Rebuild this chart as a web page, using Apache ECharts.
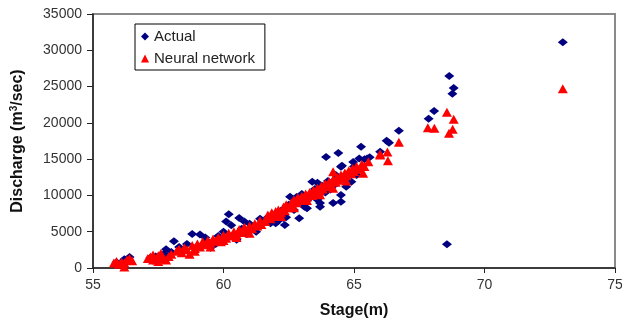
<!DOCTYPE html>
<html>
<head>
<meta charset="utf-8">
<script src="https://cdn.jsdelivr.net/npm/echarts@6/dist/echarts.min.js"></script>
<style>html,body{margin:0;padding:0;background:#fff}#c{width:622px;height:320px}</style>
</head>
<body>
<div id="c"></div>
<script>
// Tick labels
const xTicks = [55, 60, 65, 70, 75];
const yTicks = [0, 5000, 10000, 15000, 20000, 25000, 30000, 35000];
const seriesNames = ["Actual", "Neural network"];

// Actual observed discharge [stage, discharge]
const actual = [
  [55.9,800],[56.0,600],[56.2,1200],[56.4,1500],[56.3,900],[56.1,300],
  [57.2,1400],[57.4,1600],[57.5,1200],[57.7,1900],[57.8,2600],[57.9,1700],[58.1,3700],[58.0,2200],[57.3,1000],
  [58.3,2900],[58.5,2400],[58.8,4700],[59.1,4600],[59.0,3000],[59.3,4200],[59.5,2800],[59.7,3300],[59.8,4400],
  [60.0,5000],[60.1,6400],[60.2,7400],[60.3,5900],[60.4,4200],[60.5,3900],[60.6,6900],[60.8,6400],[60.9,4700],
  [61.0,6100],[61.25,5000],[61.1,5500],[59.4,3600],[58.6,3300],[60.7,5400],[61.4,6800],
  [61.8,6150],[62.0,6150],[62.35,5930],[62.3,6900],[62.55,9830],[62.9,6850],[63.2,8230],[63.1,8450],
  [63.4,11900],[63.6,11750],[63.7,8450],[63.7,8960],[64.2,8960],[64.5,9140],[64.5,10060],[64.7,11200],
  [63.93,15300],[64.4,15850],[65.27,16720],[65.2,15100],[65.5,15100],[64.97,14600],[64.54,14100],[64.5,13960],
  [65.4,14980],[65.6,15250],
  [61.7,7000],[62.0,7500],[62.2,7900],[62.5,8700],[62.7,8000],[62.8,9800],[63.0,10200],[63.0,9000],[63.3,9600],
  [63.5,10900],[63.8,11300],[63.9,10400],[64.0,12000],[64.1,10800],[64.3,12800],[64.6,12200],[64.8,13000],
  [65.0,14000],[65.1,12800],[65.3,13600],[64.2,11300],[63.6,9400],[62.4,7000],[62.1,6500],[64.9,11900],
  [66.0,16030],[66.25,17540],[66.34,17270],[66.72,18900],[67.86,20575],[68.07,21635],
  [68.65,26450],[68.82,24800],[68.77,24000],[68.56,3270],[73.0,31100]
];

// Neural network estimated discharge [stage, discharge]
const neural = [
  [55.8,700],[55.9,900],[56.0,500],[56.1,800],[56.2,150],[56.3,1100],[56.4,1300],[56.5,1000],[56.2,700],
  [57.1,1300],[57.2,1500],[57.3,1800],[57.4,1200],[57.5,1700],[57.5,900],[57.6,2000],[57.7,1400],[57.8,1100],
  [57.9,1600],[58.0,1900],[57.6,1300],[57.3,1100],
  [58.2,2300],[58.3,2600],[58.4,2100],[58.5,2800],[58.6,2500],[58.7,1900],[58.8,3100],[58.9,2700],[59.0,3300],
  [59.1,2900],[59.2,3600],[59.3,3200],[59.4,3800],[59.5,3400],[59.6,4000],[59.7,3700],[59.8,4200],[59.9,3600],
  [60.0,4500],[60.1,4100],[60.2,4800],[60.3,4400],[60.4,5000],[60.5,4600],[60.6,5300],[60.7,4900],[60.8,5600],
  [60.9,5200],[61.0,5800],[61.1,5400],[61.2,6100],[61.3,5800],[61.4,6500],[61.45,6000],[59.5,2900],[60.0,3800],
  [60.5,4200],[61.0,4800],[58.9,2300],
  [61.6,6400],[61.65,6900],[61.7,7300],[61.8,6800],[61.85,7600],[61.9,7100],[62.0,7800],[62.05,7300],[62.1,8000],
  [62.2,7600],[62.3,8400],[62.35,7900],[62.4,8700],[62.5,8300],[62.6,9000],[62.65,8600],[62.7,9400],[62.8,9000],
  [62.85,9700],[62.9,9300],[63.0,9900],[63.1,9500],[63.15,10200],[63.2,9800],[63.3,10400],[63.4,10000],
  [63.45,10700],[63.5,10300],[63.6,11000],[63.7,10600],[63.75,11300],[63.8,10900],[63.9,11600],[64.0,11200],
  [64.05,11900],[64.1,11500],[64.2,12200],[64.2,13270],[64.3,11800],[64.35,12500],[64.4,12100],[64.5,12800],
  [64.6,12400],[64.65,13100],[64.7,12700],[64.8,13400],[64.9,13000],[64.95,13700],[65.0,13300],[65.1,14000],
  [65.2,13600],[65.3,14300],[65.35,13050],[65.4,14000],[65.55,14650],[66.0,15570],[66.28,15985],[66.3,14790],
  [66.72,17320],[62.2,7100],[62.7,8300],[63.2,9300],[63.7,10100],[64.2,11000],[64.7,12000],[66.0,15710],
  [67.83,19335],[68.08,19250],[68.56,21450],[68.82,20490],[68.78,19110],[68.64,18560],[73.0,24700]
];

const chart = echarts.init(document.getElementById('c'), null, {renderer: 'canvas'});
const font = 'Liberation Sans, Arial, sans-serif';
chart.setOption({
  animation: false,
  backgroundColor: '#fff',
  grid: {left: 93, right: 7, top: 14, bottom: 52, containLabel: false, outerBoundsMode: 'none',
         show: true, borderColor: '#8a8a8a', borderWidth: 2, backgroundColor: 'transparent'},
  legend: {
    data: [{name: seriesNames[0], icon: 'diamond'}, {name: seriesNames[1], icon: 'triangle'}],
    orient: 'vertical', left: 135, top: 24,
    padding: [5, 10, 4, 6], itemGap: 7, itemWidth: 8, itemHeight: 8,
    borderColor: '#000', borderWidth: 1, backgroundColor: '#fff',
    textStyle: {fontFamily: font, fontSize: 15, color: '#222'}
  },
  xAxis: {
    type: 'value', min: xTicks[0], max: xTicks[xTicks.length - 1], interval: 5,
    name: 'Stage(m)', nameLocation: 'middle', nameGap: 35,
    nameTextStyle: {fontFamily: font, fontSize: 16, fontWeight: 'bold', color: '#111'},
    axisLine: {show: true, lineStyle: {color: '#222', width: 1.5}},
    axisTick: {show: true, inside: false, length: 5, lineStyle: {color: '#222'}},
    axisLabel: {fontFamily: font, fontSize: 14, color: '#333', margin: 10, formatter: v => String(v)},
    splitLine: {show: false}
  },
  yAxis: {
    type: 'value', min: yTicks[0], max: yTicks[yTicks.length - 1], interval: 5000,
    name: 'Discharge (m{sup|3}/sec)', nameLocation: 'middle', nameGap: 66, nameRotate: 90,
    nameTextStyle: {fontFamily: font, fontSize: 16, fontWeight: 'bold', color: '#111',
      rich: {sup: {fontFamily: font, fontSize: 10, fontWeight: 'bold', color: '#111', verticalAlign: 'top', padding: [0, 0, 8, 0]}}},
    axisLine: {show: true, lineStyle: {color: '#222', width: 1.5}},
    axisTick: {show: true, inside: false, length: 6, lineStyle: {color: '#222'}},
    axisLabel: {fontFamily: font, fontSize: 14, color: '#333', margin: 11, formatter: v => String(v)},
    splitLine: {show: false}
  },
  series: [
    {name: seriesNames[0], type: 'scatter', symbol: 'diamond', symbolSize: [10, 8], data: actual,
     itemStyle: {color: '#000080', opacity: 1}},
    {name: seriesNames[1], type: 'scatter', symbol: 'triangle', symbolSize: [10, 9], data: neural,
     itemStyle: {color: '#ff0000', opacity: 1}}
  ]
});
</script>
</body>
</html>
